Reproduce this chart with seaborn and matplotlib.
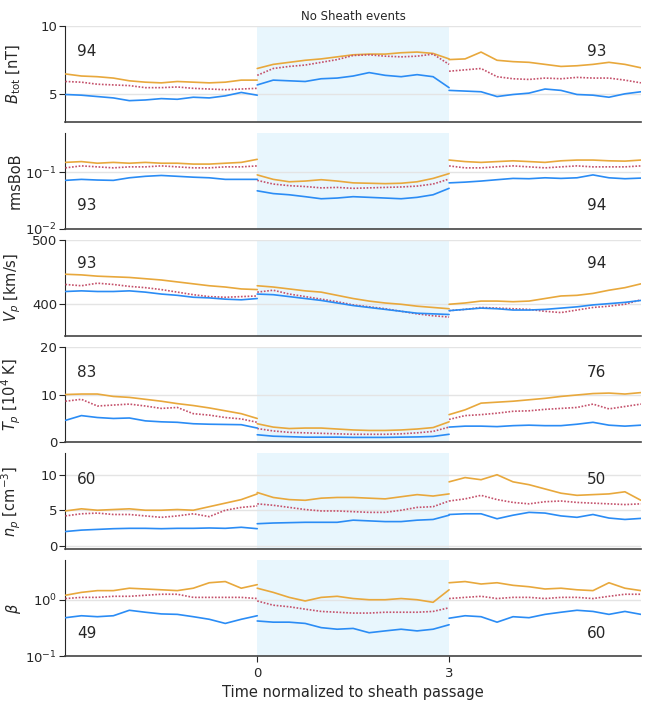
"""
Superposed epoch plot - No Sheath events
Quartiles of solar wind parameters vs time normalized to sheath passage.
"""
import numpy as np
import pandas as pd
import matplotlib
matplotlib.use('Agg')
import matplotlib.pyplot as plt
import seaborn as sns

sns.set_style("ticks")
plt.rcParams['font.family'] = ['DejaVu Sans']
plt.rcParams['font.size'] = 10

# time grid of the three segments (before, during, after the sheath)
t_pre = np.arange(-3, 0.001, 0.25)
t_sh = np.arange(0, 3.001, 0.25)
t_post = np.arange(3, 6.001, 0.25)

# ---- B_tot [nT]
btot_hi = [6.5, 6.35, 6.3, 6.2, 6.0, 5.9, 5.85, 5.95, 5.9, 5.85, 5.9, 6.05, 6.05,
           6.9, 7.2, 7.35, 7.5, 7.6, 7.75, 7.9, 7.95, 7.95, 8.05, 8.1, 8.0, 7.6,
           7.55, 7.6, 8.1, 7.5, 7.4, 7.35, 7.2, 7.05, 7.1, 7.2, 7.35, 7.2, 6.95]
btot_med = [5.95, 5.9, 5.75, 5.7, 5.65, 5.5, 5.5, 5.55, 5.45, 5.4, 5.35, 5.4, 5.45,
            6.4, 6.9, 7.05, 7.15, 7.35, 7.55, 7.85, 7.9, 7.8, 7.75, 7.8, 7.95, 7.2,
            6.7, 6.8, 6.9, 6.3, 6.15, 6.1, 6.2, 6.15, 6.25, 6.2, 6.2, 6.05, 5.85]
btot_lo = [5.0, 4.95, 4.85, 4.75, 4.55, 4.6, 4.7, 4.65, 4.8, 4.75, 4.9, 5.15, 4.95,
           5.7, 6.05, 6.0, 5.95, 6.15, 6.2, 6.35, 6.6, 6.4, 6.3, 6.45, 6.3, 5.5,
           5.3, 5.25, 5.2, 4.85, 5.0, 5.1, 5.4, 5.3, 5.0, 4.95, 4.8, 5.05, 5.2]

# ---- rmsBoB
rms_hi = [0.15, 0.155, 0.145, 0.15, 0.145, 0.15, 0.145, 0.145, 0.14, 0.14, 0.145, 0.15, 0.17,
          0.09, 0.075, 0.068, 0.07, 0.074, 0.07, 0.065, 0.064, 0.063, 0.064, 0.068, 0.078, 0.095,
          0.165, 0.155, 0.15, 0.155, 0.16, 0.155, 0.15, 0.16, 0.165, 0.165, 0.16, 0.158, 0.165]
rms_med = [0.12, 0.13, 0.125, 0.12, 0.125, 0.125, 0.13, 0.125, 0.12, 0.12, 0.125, 0.125, 0.13,
           0.072, 0.062, 0.058, 0.056, 0.053, 0.054, 0.052, 0.053, 0.054, 0.055, 0.057, 0.062, 0.076,
           0.13, 0.12, 0.12, 0.125, 0.13, 0.125, 0.12, 0.125, 0.13, 0.125, 0.125, 0.125, 0.13]
rms_lo = [0.072, 0.075, 0.073, 0.072, 0.08, 0.085, 0.088, 0.085, 0.082, 0.08, 0.075, 0.075, 0.075,
          0.047, 0.042, 0.04, 0.037, 0.034, 0.035, 0.037, 0.036, 0.035, 0.034, 0.036, 0.04, 0.052,
          0.065, 0.067, 0.07, 0.074, 0.078, 0.077, 0.08, 0.078, 0.08, 0.09, 0.08, 0.077, 0.079]

# ---- V_p [km/s]
vp_hi = [446, 445, 443, 442, 441, 439, 437, 434, 431, 428, 426, 423, 422,
         428, 426, 423, 420, 418, 413, 408, 404, 401, 399, 396, 394, 392,
         399, 401, 404, 404, 403, 404, 408, 412, 413, 416, 421, 425, 431]
vp_med = [430, 428, 432, 430, 427, 425, 422, 418, 414, 411, 410, 411, 412,
          418, 421, 415, 411, 407, 403, 398, 395, 392, 388, 384, 381, 379,
          389, 391, 394, 393, 392, 391, 388, 386, 390, 394, 396, 399, 406]
vp_lo = [419, 420, 419, 419, 420, 418, 415, 413, 410, 409, 407, 406, 408,
         415, 414, 411, 408, 405, 401, 397, 394, 391, 388, 385, 384, 383,
         389, 391, 393, 392, 390, 390, 391, 393, 395, 398, 400, 402, 405]

# ---- T_p [10^4 K]
tp_hi = [10.0, 10.1, 10.1, 9.6, 9.4, 9.0, 8.6, 8.1, 7.7, 7.2, 6.6, 6.0, 5.0,
         3.9, 3.2, 2.9, 3.0, 3.0, 2.8, 2.6, 2.5, 2.5, 2.6, 2.8, 3.1, 4.3,
         5.8, 6.8, 8.2, 8.4, 8.6, 8.9, 9.2, 9.6, 9.9, 10.2, 10.3, 10.1, 10.4]
tp_med = [8.6, 9.0, 7.6, 7.8, 8.0, 7.6, 7.1, 7.3, 6.0, 5.7, 5.2, 4.9, 4.2,
          2.9, 2.4, 2.1, 2.0, 1.9, 1.8, 1.7, 1.7, 1.7, 1.8, 2.0, 2.3, 3.2,
          4.8, 5.6, 5.8, 6.1, 6.5, 6.6, 6.9, 7.1, 7.3, 8.0, 7.0, 7.5, 8.0]
tp_lo = [4.6, 5.6, 5.2, 5.0, 5.1, 4.5, 4.3, 4.2, 3.9, 3.8, 3.75, 3.7, 3.0,
         1.6, 1.3, 1.2, 1.1, 1.1, 1.1, 1.05, 1.05, 1.05, 1.1, 1.15, 1.25, 1.7,
         3.2, 3.4, 3.4, 3.3, 3.5, 3.6, 3.5, 3.5, 3.8, 4.2, 3.6, 3.4, 3.6]

# ---- n_p [cm^-3]
np_hi = [4.9, 5.2, 5.0, 5.1, 5.2, 5.0, 5.0, 5.1, 5.0, 5.5, 6.0, 6.5, 7.3,
         7.5, 6.8, 6.5, 6.4, 6.7, 6.8, 6.8, 6.7, 6.6, 6.9, 7.2, 7.0, 7.3,
         9.0, 9.6, 9.3, 10.0, 9.0, 8.6, 8.0, 7.4, 7.1, 7.2, 7.3, 7.6, 6.4]
np_med = [4.2, 4.5, 4.6, 4.4, 4.4, 4.2, 4.0, 4.2, 4.5, 4.1, 5.0, 5.4, 5.6,
          5.9, 5.7, 5.4, 5.1, 4.9, 4.9, 4.8, 4.7, 4.7, 5.0, 5.4, 5.5, 6.3,
          6.3, 6.6, 7.1, 6.5, 6.1, 5.9, 6.2, 6.3, 6.1, 6.0, 5.9, 5.8, 5.9]
np_lo = [2.0, 2.2, 2.3, 2.4, 2.45, 2.45, 2.4, 2.45, 2.45, 2.5, 2.45, 2.6, 2.4,
         3.1, 3.2, 3.25, 3.3, 3.3, 3.3, 3.6, 3.5, 3.4, 3.4, 3.6, 3.7, 4.3,
         4.4, 4.5, 4.5, 3.8, 4.3, 4.7, 4.6, 4.2, 4.0, 4.4, 3.9, 3.7, 3.85]

# ---- plasma beta
beta_hi = [1.2, 1.35, 1.45, 1.45, 1.6, 1.55, 1.5, 1.45, 1.6, 2.0, 2.1, 1.6, 1.85,
           1.6, 1.35, 1.1, 0.95, 1.1, 1.15, 1.05, 1.0, 1.0, 1.05, 1.0, 0.9, 1.5,
           2.0, 2.1, 1.9, 2.0, 1.8, 1.7, 1.55, 1.6, 1.5, 1.45, 2.0, 1.6, 1.45]
beta_med = [1.05, 1.1, 1.1, 1.15, 1.15, 1.2, 1.25, 1.25, 1.1, 1.1, 1.1, 1.1, 1.05,
            0.95, 0.8, 0.75, 0.68, 0.62, 0.6, 0.58, 0.58, 0.6, 0.6, 0.6, 0.62, 0.72,
            1.05, 1.1, 1.15, 1.05, 1.1, 1.1, 1.05, 1.1, 1.1, 1.05, 1.15, 1.25, 1.25]
beta_lo = [0.48, 0.52, 0.5, 0.52, 0.65, 0.6, 0.56, 0.55, 0.5, 0.45, 0.38, 0.45, 0.52,
           0.42, 0.4, 0.4, 0.38, 0.32, 0.3, 0.31, 0.26, 0.28, 0.3, 0.28, 0.3, 0.36,
           0.47, 0.52, 0.5, 0.4, 0.5, 0.48, 0.55, 0.6, 0.65, 0.62, 0.55, 0.62, 0.55]

# event counts (before / after) and where they sit
panels = [
    dict(label=r'$B_{\rm tot}$ [nT]', hi=btot_hi, med=btot_med, lo=btot_lo,
         ylim=(3, 10), log=False, yticks=[5, 10], counts=('94', '93'), ypos=0.73),
    dict(label='rmsBoB', hi=rms_hi, med=rms_med, lo=rms_lo,
         ylim=(0.01, 0.5), log=True, yticks=[0.01, 0.1], counts=('93', '94'), ypos=0.24),
    dict(label=r'$V_p$ [km/s]', hi=vp_hi, med=vp_med, lo=vp_lo,
         ylim=(350, 500), log=False, yticks=[400, 500], counts=('93', '94'), ypos=0.75),
    dict(label=r'$T_p$ [$10^4$ K]', hi=tp_hi, med=tp_med, lo=tp_lo,
         ylim=(0, 20), log=False, yticks=[0, 10, 20], counts=('83', '76'), ypos=0.73),
    dict(label=r'$n_p$ [cm$^{-3}$]', hi=np_hi, med=np_med, lo=np_lo,
         ylim=(-0.5, 13), log=False, yticks=[0, 5, 10], counts=('60', '50'), ypos=0.73),
    dict(label=r'$\beta$', hi=beta_hi, med=beta_med, lo=beta_lo,
         ylim=(0.1, 5), log=True, yticks=[0.1, 1], counts=('49', '60'), ypos=0.24),
]

colors = {'hi': '#e8a83c', 'med': '#c4516b', 'lo': '#2a8cf5'}
styles = {'hi': '', 'med': (1, 1), 'lo': ''}

times = np.concatenate([t_pre, t_sh, t_post])
segment = np.repeat([0, 1, 2], [len(t_pre), len(t_sh), len(t_post)])


def build_frame(p):
    rows = []
    for key in ['hi', 'med', 'lo']:
        rows.append(pd.DataFrame({'t': times, 'value': p[key], 'stat': key, 'seg': segment}))
    return pd.concat(rows, ignore_index=True)


fig, axes = plt.subplots(6, 1, figsize=(6.54, 7.04), dpi=100, sharex=True)
fig.subplots_adjust(left=0.1, right=0.98, top=0.963, bottom=0.068, hspace=0.115)

for ax, p in zip(axes, panels):
    df = build_frame(p)
    ax.axvspan(0, 3, color='#e8f6fd', zorder=0, lw=0)
    if p['log']:
        ax.set_yscale('log')
    sns.lineplot(data=df, x='t', y='value', hue='stat', style='stat',
                 units='seg', estimator=None, palette=colors, dashes=styles,
                 linewidth=1.2, legend=False, ax=ax, zorder=3)
    ax.set_xlim(-3, 6)
    ax.set_ylim(*p['ylim'])
    ax.set_yticks(p['yticks'])
    ax.minorticks_off()
    ax.tick_params(axis='y', labelsize=9.5, length=4, pad=2)
    ax.yaxis.grid(True, color='#e4e4e4', lw=1)
    ax.set_axisbelow(True)
    ax.set_ylabel(p['label'], fontsize=10.5, labelpad=2)
    ax.set_xlabel('')
    sns.despine(ax=ax)
    ax.spines['bottom'].set_color('#444444')
    ax.spines['bottom'].set_linewidth(1.2)
    ax.tick_params(axis='x', length=0)
    trans = ax.get_xaxis_transform()
    ax.text(-2.82, p['ypos'], p['counts'][0], transform=trans, va='center', fontsize=11)
    ax.text(5.15, p['ypos'], p['counts'][1], transform=trans, va='center', fontsize=11)

axes[0].set_title('No Sheath events', fontsize=8.5, pad=4)
axes[-1].set_xticks([0, 3])
axes[-1].tick_params(axis='x', length=4, labelsize=9.5)
axes[-1].set_xlabel('Time normalized to sheath passage', fontsize=10.5)
fig.align_ylabels(axes)

plt.savefig('out.png')
plt.close()
